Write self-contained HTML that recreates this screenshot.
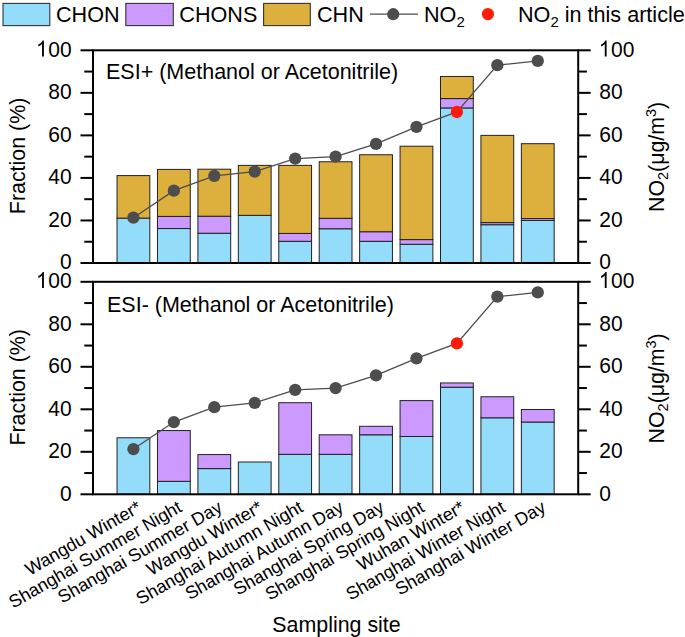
<!DOCTYPE html>
<html><head><meta charset="utf-8"><style>
html,body{margin:0;padding:0;background:#fff;}
svg{display:block;}
text{font-family:"Liberation Sans",sans-serif;fill:#000;}
.t{font-size:21px;}
.sub{font-size:14.5px;}
.xl{font-size:18px;}
.lg{font-size:21.6px;}
.lsub{font-size:15px;}
</style></head><body>
<svg width="685" height="637" viewBox="0 0 685 637">
<rect width="685" height="637" fill="#fff"/>
<rect x="117.03" y="218.12" width="32.80" height="44.88" fill="#93dcfa" stroke="#222" stroke-width="1"/>
<rect x="117.03" y="175.58" width="32.80" height="42.54" fill="#ddaf3c" stroke="#222" stroke-width="1"/>
<rect x="157.47" y="228.54" width="32.80" height="34.46" fill="#93dcfa" stroke="#222" stroke-width="1"/>
<rect x="157.47" y="216.42" width="32.80" height="12.12" fill="#cc99ff" stroke="#222" stroke-width="1"/>
<rect x="157.47" y="169.41" width="32.80" height="47.01" fill="#ddaf3c" stroke="#222" stroke-width="1"/>
<rect x="197.90" y="233.22" width="32.80" height="29.78" fill="#93dcfa" stroke="#222" stroke-width="1"/>
<rect x="197.90" y="216.21" width="32.80" height="17.02" fill="#cc99ff" stroke="#222" stroke-width="1"/>
<rect x="197.90" y="169.20" width="32.80" height="47.01" fill="#ddaf3c" stroke="#222" stroke-width="1"/>
<rect x="238.33" y="215.36" width="32.80" height="47.64" fill="#93dcfa" stroke="#222" stroke-width="1"/>
<rect x="238.33" y="165.37" width="32.80" height="49.98" fill="#ddaf3c" stroke="#222" stroke-width="1"/>
<rect x="278.77" y="241.30" width="32.80" height="21.70" fill="#93dcfa" stroke="#222" stroke-width="1"/>
<rect x="278.77" y="233.43" width="32.80" height="7.87" fill="#cc99ff" stroke="#222" stroke-width="1"/>
<rect x="278.77" y="165.37" width="32.80" height="68.06" fill="#ddaf3c" stroke="#222" stroke-width="1"/>
<rect x="319.20" y="228.76" width="32.80" height="34.24" fill="#93dcfa" stroke="#222" stroke-width="1"/>
<rect x="319.20" y="218.33" width="32.80" height="10.42" fill="#cc99ff" stroke="#222" stroke-width="1"/>
<rect x="319.20" y="161.75" width="32.80" height="56.58" fill="#ddaf3c" stroke="#222" stroke-width="1"/>
<rect x="359.63" y="241.30" width="32.80" height="21.70" fill="#93dcfa" stroke="#222" stroke-width="1"/>
<rect x="359.63" y="231.73" width="32.80" height="9.57" fill="#cc99ff" stroke="#222" stroke-width="1"/>
<rect x="359.63" y="154.74" width="32.80" height="77.00" fill="#ddaf3c" stroke="#222" stroke-width="1"/>
<rect x="400.07" y="244.28" width="32.80" height="18.72" fill="#93dcfa" stroke="#222" stroke-width="1"/>
<rect x="400.07" y="239.60" width="32.80" height="4.68" fill="#cc99ff" stroke="#222" stroke-width="1"/>
<rect x="400.07" y="146.23" width="32.80" height="93.38" fill="#ddaf3c" stroke="#222" stroke-width="1"/>
<rect x="440.50" y="107.94" width="32.80" height="155.06" fill="#93dcfa" stroke="#222" stroke-width="1"/>
<rect x="440.50" y="98.58" width="32.80" height="9.36" fill="#cc99ff" stroke="#222" stroke-width="1"/>
<rect x="440.50" y="76.46" width="32.80" height="22.12" fill="#ddaf3c" stroke="#222" stroke-width="1"/>
<rect x="480.93" y="224.71" width="32.80" height="38.29" fill="#93dcfa" stroke="#222" stroke-width="1"/>
<rect x="480.93" y="222.59" width="32.80" height="2.13" fill="#cc99ff" stroke="#222" stroke-width="1"/>
<rect x="480.93" y="135.38" width="32.80" height="87.21" fill="#ddaf3c" stroke="#222" stroke-width="1"/>
<rect x="521.37" y="220.46" width="32.80" height="42.54" fill="#93dcfa" stroke="#222" stroke-width="1"/>
<rect x="521.37" y="218.55" width="32.80" height="1.91" fill="#cc99ff" stroke="#222" stroke-width="1"/>
<rect x="521.37" y="143.68" width="32.80" height="74.87" fill="#ddaf3c" stroke="#222" stroke-width="1"/>
<polyline points="133.43,217.69 173.87,190.68 214.30,175.79 254.73,171.54 295.17,158.56 335.60,156.65 376.03,143.89 416.47,126.87 456.90,111.98 497.33,65.19 537.77,60.94" fill="none" stroke="#4d4d4d" stroke-width="1.3"/>
<circle cx="133.43" cy="217.69" r="6.15" fill="#4d4d4d"/>
<circle cx="173.87" cy="190.68" r="6.15" fill="#4d4d4d"/>
<circle cx="214.30" cy="175.79" r="6.15" fill="#4d4d4d"/>
<circle cx="254.73" cy="171.54" r="6.15" fill="#4d4d4d"/>
<circle cx="295.17" cy="158.56" r="6.15" fill="#4d4d4d"/>
<circle cx="335.60" cy="156.65" r="6.15" fill="#4d4d4d"/>
<circle cx="376.03" cy="143.89" r="6.15" fill="#4d4d4d"/>
<circle cx="416.47" cy="126.87" r="6.15" fill="#4d4d4d"/>
<circle cx="456.90" cy="111.98" r="6.15" fill="#ff1a0a"/>
<circle cx="497.33" cy="65.19" r="6.15" fill="#4d4d4d"/>
<circle cx="537.77" cy="60.94" r="6.15" fill="#4d4d4d"/>
<rect x="93.0" y="50.3" width="485.20" height="212.70" fill="none" stroke="#000" stroke-width="2"/>
<line x1="80.5" y1="263.00" x2="93.0" y2="263.00" stroke="#000" stroke-width="2"/>
<line x1="578.2" y1="263.00" x2="590.7" y2="263.00" stroke="#000" stroke-width="2"/>
<g transform="translate(59.92,269.20) scale(1,1.085)">
<text x="0" y="0" class="t">0</text>
</g>
<g transform="translate(599.30,269.20) scale(1,1.085)">
<text x="0" y="0" class="t">0</text>
</g>
<line x1="84.3" y1="241.73" x2="93.0" y2="241.73" stroke="#000" stroke-width="2"/>
<line x1="578.2" y1="241.73" x2="586.9000000000001" y2="241.73" stroke="#000" stroke-width="2"/>
<line x1="80.5" y1="220.46" x2="93.0" y2="220.46" stroke="#000" stroke-width="2"/>
<line x1="578.2" y1="220.46" x2="590.7" y2="220.46" stroke="#000" stroke-width="2"/>
<g transform="translate(48.24,226.66) scale(1,1.085)">
<text x="0" y="0" class="t">20</text>
</g>
<g transform="translate(599.30,226.66) scale(1,1.085)">
<text x="0" y="0" class="t">20</text>
</g>
<line x1="84.3" y1="199.19" x2="93.0" y2="199.19" stroke="#000" stroke-width="2"/>
<line x1="578.2" y1="199.19" x2="586.9000000000001" y2="199.19" stroke="#000" stroke-width="2"/>
<line x1="80.5" y1="177.92" x2="93.0" y2="177.92" stroke="#000" stroke-width="2"/>
<line x1="578.2" y1="177.92" x2="590.7" y2="177.92" stroke="#000" stroke-width="2"/>
<g transform="translate(48.24,184.12) scale(1,1.085)">
<text x="0" y="0" class="t">40</text>
</g>
<g transform="translate(599.30,184.12) scale(1,1.085)">
<text x="0" y="0" class="t">40</text>
</g>
<line x1="84.3" y1="156.65" x2="93.0" y2="156.65" stroke="#000" stroke-width="2"/>
<line x1="578.2" y1="156.65" x2="586.9000000000001" y2="156.65" stroke="#000" stroke-width="2"/>
<line x1="80.5" y1="135.38" x2="93.0" y2="135.38" stroke="#000" stroke-width="2"/>
<line x1="578.2" y1="135.38" x2="590.7" y2="135.38" stroke="#000" stroke-width="2"/>
<g transform="translate(48.24,141.58) scale(1,1.085)">
<text x="0" y="0" class="t">60</text>
</g>
<g transform="translate(599.30,141.58) scale(1,1.085)">
<text x="0" y="0" class="t">60</text>
</g>
<line x1="84.3" y1="114.11" x2="93.0" y2="114.11" stroke="#000" stroke-width="2"/>
<line x1="578.2" y1="114.11" x2="586.9000000000001" y2="114.11" stroke="#000" stroke-width="2"/>
<line x1="80.5" y1="92.84" x2="93.0" y2="92.84" stroke="#000" stroke-width="2"/>
<line x1="578.2" y1="92.84" x2="590.7" y2="92.84" stroke="#000" stroke-width="2"/>
<g transform="translate(48.24,99.04) scale(1,1.085)">
<text x="0" y="0" class="t">80</text>
</g>
<g transform="translate(599.30,99.04) scale(1,1.085)">
<text x="0" y="0" class="t">80</text>
</g>
<line x1="84.3" y1="71.57" x2="93.0" y2="71.57" stroke="#000" stroke-width="2"/>
<line x1="578.2" y1="71.57" x2="586.9000000000001" y2="71.57" stroke="#000" stroke-width="2"/>
<line x1="80.5" y1="50.30" x2="93.0" y2="50.30" stroke="#000" stroke-width="2"/>
<line x1="578.2" y1="50.30" x2="590.7" y2="50.30" stroke="#000" stroke-width="2"/>
<g transform="translate(36.56,56.50) scale(1,1.085)">
<path transform="translate(-0.5,0) scale(0.010254,0.009998)" d="M763 0L583 0L583 -1147Q518 -1085 412 -1023Q306 -961 221 -930L221 -1104Q372 -1175 485 -1276Q598 -1377 645 -1472L763 -1472Z" fill="#000"/>
<text x="11.68" y="0" class="t">00</text>
</g>
<g transform="translate(599.30,56.50) scale(1,1.085)">
<path transform="translate(-0.5,0) scale(0.010254,0.009998)" d="M763 0L583 0L583 -1147Q518 -1085 412 -1023Q306 -961 221 -930L221 -1104Q372 -1175 485 -1276Q598 -1377 645 -1472L763 -1472Z" fill="#000"/>
<text x="11.68" y="0" class="t">00</text>
</g>
<text transform="translate(25.3,155.95) rotate(-90)" text-anchor="middle" class="t" style="font-size:21.4px">Fraction (%)</text>
<text transform="translate(663.5,156.95) rotate(-90)" text-anchor="middle" class="t" style="font-size:21.3px">NO<tspan class="sub" dy="4">2</tspan><tspan dy="-4">(μg/m</tspan><tspan class="sub" dy="-8">3</tspan><tspan dy="8">)</tspan></text>
<rect x="117.03" y="437.78" width="32.80" height="56.52" fill="#93dcfa" stroke="#222" stroke-width="1"/>
<rect x="157.47" y="481.34" width="32.80" height="12.96" fill="#93dcfa" stroke="#222" stroke-width="1"/>
<rect x="157.47" y="430.55" width="32.80" height="50.79" fill="#cc99ff" stroke="#222" stroke-width="1"/>
<rect x="197.90" y="468.59" width="32.80" height="25.71" fill="#93dcfa" stroke="#222" stroke-width="1"/>
<rect x="197.90" y="454.56" width="32.80" height="14.03" fill="#cc99ff" stroke="#222" stroke-width="1"/>
<rect x="238.33" y="462.00" width="32.80" height="32.30" fill="#93dcfa" stroke="#222" stroke-width="1"/>
<rect x="278.77" y="454.35" width="32.80" height="39.95" fill="#93dcfa" stroke="#222" stroke-width="1"/>
<rect x="278.77" y="402.71" width="32.80" height="51.64" fill="#cc99ff" stroke="#222" stroke-width="1"/>
<rect x="319.20" y="454.35" width="32.80" height="39.95" fill="#93dcfa" stroke="#222" stroke-width="1"/>
<rect x="319.20" y="434.80" width="32.80" height="19.55" fill="#cc99ff" stroke="#222" stroke-width="1"/>
<rect x="359.63" y="434.80" width="32.80" height="59.50" fill="#93dcfa" stroke="#222" stroke-width="1"/>
<rect x="359.63" y="426.30" width="32.80" height="8.50" fill="#cc99ff" stroke="#222" stroke-width="1"/>
<rect x="400.07" y="436.50" width="32.80" height="57.80" fill="#93dcfa" stroke="#222" stroke-width="1"/>
<rect x="400.07" y="400.59" width="32.80" height="35.91" fill="#cc99ff" stroke="#222" stroke-width="1"/>
<rect x="440.50" y="387.20" width="32.80" height="107.10" fill="#93dcfa" stroke="#222" stroke-width="1"/>
<rect x="440.50" y="382.95" width="32.80" height="4.25" fill="#cc99ff" stroke="#222" stroke-width="1"/>
<rect x="480.93" y="417.80" width="32.80" height="76.50" fill="#93dcfa" stroke="#222" stroke-width="1"/>
<rect x="480.93" y="396.76" width="32.80" height="21.04" fill="#cc99ff" stroke="#222" stroke-width="1"/>
<rect x="521.37" y="422.05" width="32.80" height="72.25" fill="#93dcfa" stroke="#222" stroke-width="1"/>
<rect x="521.37" y="409.51" width="32.80" height="12.54" fill="#cc99ff" stroke="#222" stroke-width="1"/>
<polyline points="133.43,449.04 173.87,422.05 214.30,407.18 254.73,402.93 295.17,389.96 335.60,388.05 376.03,375.30 416.47,358.30 456.90,343.43 497.33,296.68 537.77,292.43" fill="none" stroke="#4d4d4d" stroke-width="1.3"/>
<circle cx="133.43" cy="449.04" r="6.15" fill="#4d4d4d"/>
<circle cx="173.87" cy="422.05" r="6.15" fill="#4d4d4d"/>
<circle cx="214.30" cy="407.18" r="6.15" fill="#4d4d4d"/>
<circle cx="254.73" cy="402.93" r="6.15" fill="#4d4d4d"/>
<circle cx="295.17" cy="389.96" r="6.15" fill="#4d4d4d"/>
<circle cx="335.60" cy="388.05" r="6.15" fill="#4d4d4d"/>
<circle cx="376.03" cy="375.30" r="6.15" fill="#4d4d4d"/>
<circle cx="416.47" cy="358.30" r="6.15" fill="#4d4d4d"/>
<circle cx="456.90" cy="343.43" r="6.15" fill="#ff1a0a"/>
<circle cx="497.33" cy="296.68" r="6.15" fill="#4d4d4d"/>
<circle cx="537.77" cy="292.43" r="6.15" fill="#4d4d4d"/>
<rect x="93.0" y="281.8" width="485.20" height="212.50" fill="none" stroke="#000" stroke-width="2"/>
<line x1="80.5" y1="494.30" x2="93.0" y2="494.30" stroke="#000" stroke-width="2"/>
<line x1="578.2" y1="494.30" x2="590.7" y2="494.30" stroke="#000" stroke-width="2"/>
<g transform="translate(59.92,500.50) scale(1,1.085)">
<text x="0" y="0" class="t">0</text>
</g>
<g transform="translate(599.30,500.50) scale(1,1.085)">
<text x="0" y="0" class="t">0</text>
</g>
<line x1="84.3" y1="473.05" x2="93.0" y2="473.05" stroke="#000" stroke-width="2"/>
<line x1="578.2" y1="473.05" x2="586.9000000000001" y2="473.05" stroke="#000" stroke-width="2"/>
<line x1="80.5" y1="451.80" x2="93.0" y2="451.80" stroke="#000" stroke-width="2"/>
<line x1="578.2" y1="451.80" x2="590.7" y2="451.80" stroke="#000" stroke-width="2"/>
<g transform="translate(48.24,458.00) scale(1,1.085)">
<text x="0" y="0" class="t">20</text>
</g>
<g transform="translate(599.30,458.00) scale(1,1.085)">
<text x="0" y="0" class="t">20</text>
</g>
<line x1="84.3" y1="430.55" x2="93.0" y2="430.55" stroke="#000" stroke-width="2"/>
<line x1="578.2" y1="430.55" x2="586.9000000000001" y2="430.55" stroke="#000" stroke-width="2"/>
<line x1="80.5" y1="409.30" x2="93.0" y2="409.30" stroke="#000" stroke-width="2"/>
<line x1="578.2" y1="409.30" x2="590.7" y2="409.30" stroke="#000" stroke-width="2"/>
<g transform="translate(48.24,415.50) scale(1,1.085)">
<text x="0" y="0" class="t">40</text>
</g>
<g transform="translate(599.30,415.50) scale(1,1.085)">
<text x="0" y="0" class="t">40</text>
</g>
<line x1="84.3" y1="388.05" x2="93.0" y2="388.05" stroke="#000" stroke-width="2"/>
<line x1="578.2" y1="388.05" x2="586.9000000000001" y2="388.05" stroke="#000" stroke-width="2"/>
<line x1="80.5" y1="366.80" x2="93.0" y2="366.80" stroke="#000" stroke-width="2"/>
<line x1="578.2" y1="366.80" x2="590.7" y2="366.80" stroke="#000" stroke-width="2"/>
<g transform="translate(48.24,373.00) scale(1,1.085)">
<text x="0" y="0" class="t">60</text>
</g>
<g transform="translate(599.30,373.00) scale(1,1.085)">
<text x="0" y="0" class="t">60</text>
</g>
<line x1="84.3" y1="345.55" x2="93.0" y2="345.55" stroke="#000" stroke-width="2"/>
<line x1="578.2" y1="345.55" x2="586.9000000000001" y2="345.55" stroke="#000" stroke-width="2"/>
<line x1="80.5" y1="324.30" x2="93.0" y2="324.30" stroke="#000" stroke-width="2"/>
<line x1="578.2" y1="324.30" x2="590.7" y2="324.30" stroke="#000" stroke-width="2"/>
<g transform="translate(48.24,330.50) scale(1,1.085)">
<text x="0" y="0" class="t">80</text>
</g>
<g transform="translate(599.30,330.50) scale(1,1.085)">
<text x="0" y="0" class="t">80</text>
</g>
<line x1="84.3" y1="303.05" x2="93.0" y2="303.05" stroke="#000" stroke-width="2"/>
<line x1="578.2" y1="303.05" x2="586.9000000000001" y2="303.05" stroke="#000" stroke-width="2"/>
<line x1="80.5" y1="281.80" x2="93.0" y2="281.80" stroke="#000" stroke-width="2"/>
<line x1="578.2" y1="281.80" x2="590.7" y2="281.80" stroke="#000" stroke-width="2"/>
<g transform="translate(36.56,288.00) scale(1,1.085)">
<path transform="translate(-0.5,0) scale(0.010254,0.009998)" d="M763 0L583 0L583 -1147Q518 -1085 412 -1023Q306 -961 221 -930L221 -1104Q372 -1175 485 -1276Q598 -1377 645 -1472L763 -1472Z" fill="#000"/>
<text x="11.68" y="0" class="t">00</text>
</g>
<g transform="translate(599.30,288.00) scale(1,1.085)">
<path transform="translate(-0.5,0) scale(0.010254,0.009998)" d="M763 0L583 0L583 -1147Q518 -1085 412 -1023Q306 -961 221 -930L221 -1104Q372 -1175 485 -1276Q598 -1377 645 -1472L763 -1472Z" fill="#000"/>
<text x="11.68" y="0" class="t">00</text>
</g>
<text transform="translate(25.3,387.35) rotate(-90)" text-anchor="middle" class="t" style="font-size:21.4px">Fraction (%)</text>
<text transform="translate(663.5,388.35) rotate(-90)" text-anchor="middle" class="t" style="font-size:21.3px">NO<tspan class="sub" dy="4">2</tspan><tspan dy="-4">(μg/m</tspan><tspan class="sub" dy="-8">3</tspan><tspan dy="8">)</tspan></text>
<text x="106" y="78.5" class="t" style="font-size:21.5px">ESI+ (Methanol or Acetonitrile)</text>
<text x="107" y="311.8" class="t" style="font-size:21.5px">ESI- (Methanol or Acetonitrile)</text>
<text transform="translate(142.63,510.8) rotate(-30)" text-anchor="end" class="xl">Wangdu Winter*</text>
<text transform="translate(183.07,510.8) rotate(-30)" text-anchor="end" class="xl">Shanghai Summer Night</text>
<text transform="translate(223.50,510.8) rotate(-30)" text-anchor="end" class="xl">Shanghai Summer Day</text>
<text transform="translate(263.93,510.8) rotate(-30)" text-anchor="end" class="xl">Wangdu Winter*</text>
<text transform="translate(304.37,510.8) rotate(-30)" text-anchor="end" class="xl">Shanghai Autumn Night</text>
<text transform="translate(344.80,510.8) rotate(-30)" text-anchor="end" class="xl">Shanghai Autumn Day</text>
<text transform="translate(385.23,510.8) rotate(-30)" text-anchor="end" class="xl">Shanghai Spring Day</text>
<text transform="translate(425.67,510.8) rotate(-30)" text-anchor="end" class="xl">Shanghai Spring Night</text>
<text transform="translate(466.10,510.8) rotate(-30)" text-anchor="end" class="xl">Wuhan Winter*</text>
<text transform="translate(506.53,510.8) rotate(-30)" text-anchor="end" class="xl">Shanghai Winter Night</text>
<text transform="translate(546.97,510.8) rotate(-30)" text-anchor="end" class="xl">Shanghai Winter Day</text>
<text x="272.3" y="631.5" class="t" style="font-size:21.4px">Sampling site</text>
<rect x="3.00" y="3.4" width="46.80" height="22.2" fill="#93dcfa" stroke="#333" stroke-width="1.1"/>
<text x="56" y="21.7" class="lg">CHON</text>
<rect x="125.80" y="3.4" width="47.50" height="22.2" fill="#cc99ff" stroke="#333" stroke-width="1.1"/>
<text x="179.3" y="21.7" class="lg">CHONS</text>
<rect x="263.60" y="3.4" width="46.70" height="22.2" fill="#ddaf3c" stroke="#333" stroke-width="1.1"/>
<text x="317" y="21.7" class="lg">CHN</text>
<line x1="370" y1="14.2" x2="418" y2="14.2" stroke="#4d4d4d" stroke-width="1.3"/>
<circle cx="393.2" cy="14.2" r="6.1" fill="#4d4d4d"/>
<text x="424" y="21.7" class="lg">NO<tspan class="lsub" dy="5">2</tspan></text>
<circle cx="487.9" cy="14.1" r="6.1" fill="#ff1a0a"/>
<text x="518" y="21.7" class="lg">NO<tspan class="lsub" dy="5">2</tspan><tspan dy="-5"> in this article</tspan></text>
</svg></body></html>
